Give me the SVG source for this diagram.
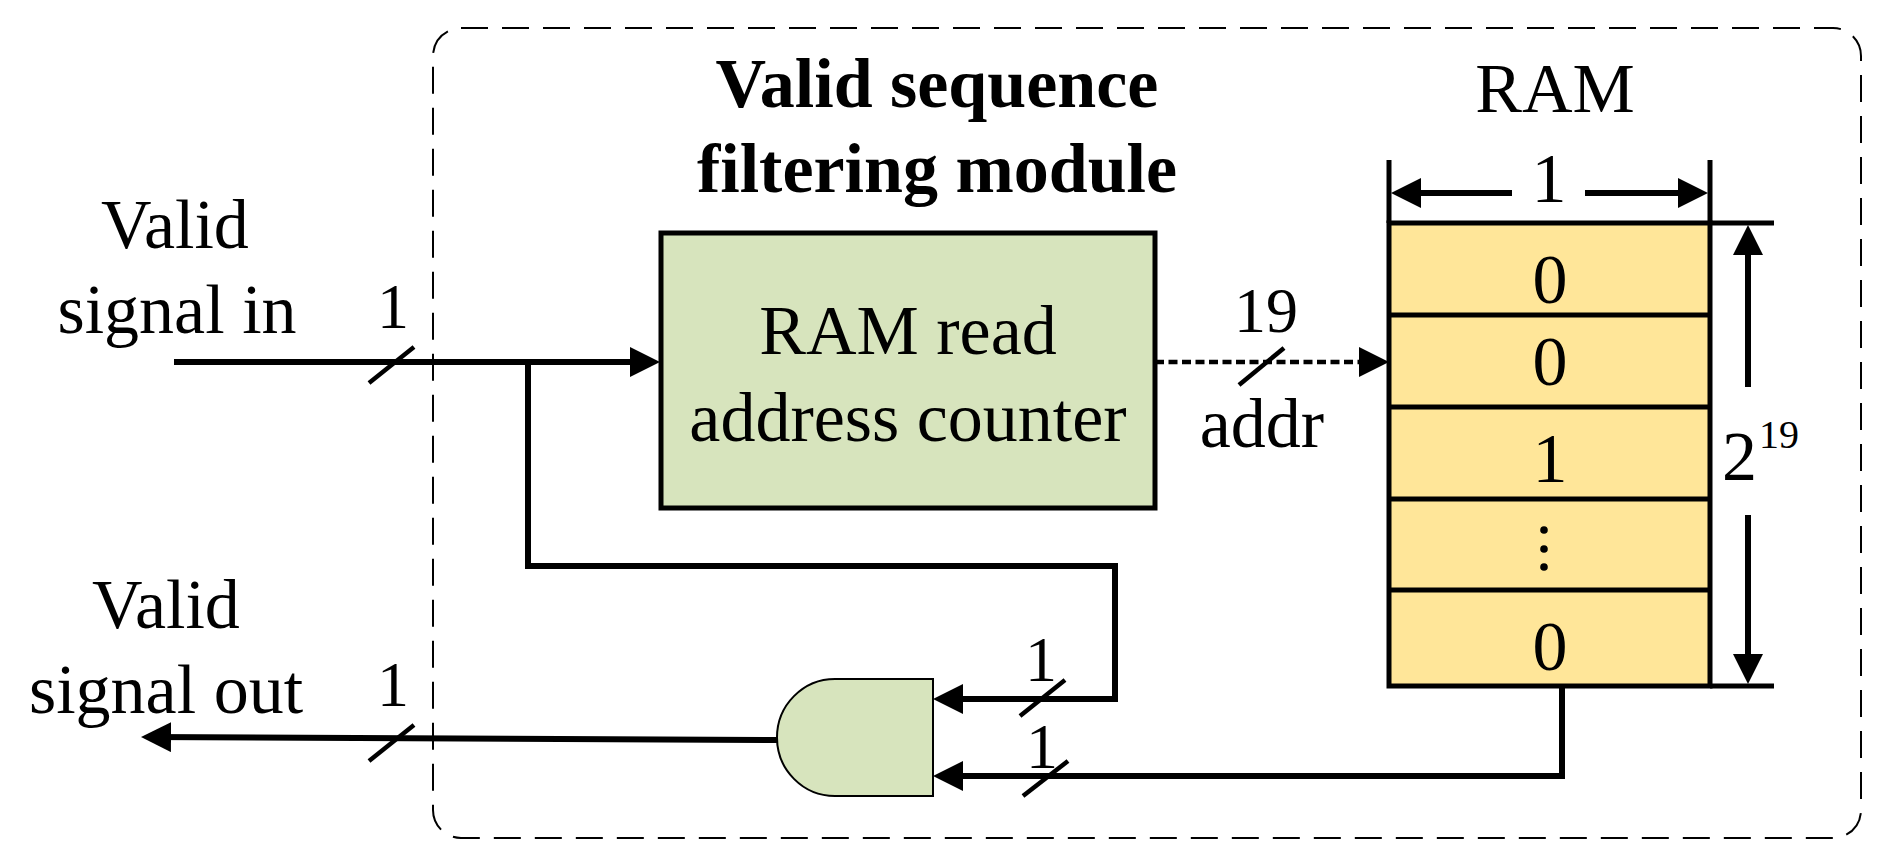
<svg xmlns="http://www.w3.org/2000/svg" width="1884" height="866" viewBox="0 0 1884 866">
<style>
text{font-family:"Liberation Serif","Times New Roman",serif;fill:#000;text-anchor:middle}
.t70{font-size:70px}
.t64{font-size:64px}
.b{font-weight:bold}
.w{fill:none;stroke:#000;stroke-width:6}
.r{fill:none;stroke:#000;stroke-width:5}
.sl{fill:none;stroke:#000;stroke-width:4.5}
.dot{fill:none;stroke:#000;stroke-width:4.5;stroke-dasharray:9 4.5}
.thin{stroke:#000;stroke-width:2}
</style>
<defs>
<marker id="arr" viewBox="0 0 30 30" refX="24" refY="15" markerWidth="30" markerHeight="30" markerUnits="userSpaceOnUse" orient="auto">
<path d="M0,0 L30,15 L0,30 Z" fill="#000"/>
</marker>
</defs>
<rect width="1884" height="866" fill="#fff"/>

<g id="module">
<rect x="433" y="28" width="1428" height="810" rx="28" ry="28" fill="none" stroke="#000" stroke-width="2" stroke-dasharray="27 14"/>
<text class="t70 b" x="937" y="107">Valid sequence</text>
<text class="t70 b" x="937" y="192">filtering module</text>
</g>

<g id="input-label">
<text class="t70" x="175" y="248">Valid</text>
<text class="t70" x="177" y="333">signal in</text>
</g>

<g id="output-label">
<text class="t70" x="166" y="628">Valid</text>
<text class="t70" x="166" y="713">signal out</text>
</g>

<g id="counter">
<rect x="661" y="233" width="494" height="275" fill="#D7E4BD" stroke="#000" stroke-width="5"/>
<text class="t70" x="908" y="354">RAM read</text>
<text class="t70" x="908" y="441">address counter</text>
</g>

<g id="ram">
<text class="t70" x="1555" y="112">RAM</text>
<rect x="1389" y="223" width="321" height="463" fill="#FFE699" stroke="#000" stroke-width="5"/>
<line class="r" x1="1389" y1="315" x2="1710" y2="315"/>
<line class="r" x1="1389" y1="407" x2="1710" y2="407"/>
<line class="r" x1="1389" y1="499" x2="1710" y2="499"/>
<line class="r" x1="1389" y1="590" x2="1710" y2="590"/>
<text class="t70" x="1550" y="303">0</text>
<text class="t70" x="1550" y="385">0</text>
<text class="t70" x="1550" y="482">1</text>
<text class="t70" x="1550" y="670">0</text>
<circle cx="1544" cy="530" r="3.8" fill="#000"/>
<circle cx="1544" cy="549" r="3.8" fill="#000"/>
<circle cx="1544" cy="567" r="3.8" fill="#000"/>
</g>

<g id="ram-width">
<line class="r" x1="1389" y1="160" x2="1389" y2="223"/>
<line class="r" x1="1710" y1="160" x2="1710" y2="223"/>
<path class="w" d="M1512,193 H1397" marker-end="url(#arr)"/>
<path class="w" d="M1585,193 H1702" marker-end="url(#arr)"/>
<text class="t70" x="1549" y="202">1</text>
</g>

<g id="ram-depth">
<line class="r" x1="1710" y1="223" x2="1774" y2="223"/>
<line class="r" x1="1710" y1="686" x2="1774" y2="686"/>
<path class="w" d="M1748,387 V231" marker-end="url(#arr)"/>
<path class="w" d="M1748,515 V678" marker-end="url(#arr)"/>
<text class="t70" x="1722" y="480" style="text-anchor:start">2<tspan font-size="40" dx="2" dy="-32">19</tspan></text>
</g>

<g id="and-gate">
<path d="M933,679 H835 A58,58.5 0 0 0 835,796 H933 Z" fill="#D7E4BD" class="thin"/>
</g>

<g id="connectors">
<path class="w" d="M174,362 H654" marker-end="url(#arr)"/>
<path class="w" d="M528,362 V566 H1115 V699 H939" marker-end="url(#arr)"/>
<path class="w" d="M1562,686 V776 H939" marker-end="url(#arr)"/>
<path class="w" d="M778,740 L147,737" marker-end="url(#arr)"/>
<path class="dot" d="M1155,362 H1383" marker-end="url(#arr)"/>
<line class="sl" x1="369" y1="383" x2="414" y2="347"/>
<line class="sl" x1="369" y1="761" x2="414" y2="725"/>
<line class="sl" x1="1020" y1="716" x2="1065" y2="680"/>
<line class="sl" x1="1023" y1="796" x2="1068" y2="761"/>
<line class="sl" x1="1239" y1="385" x2="1284" y2="348"/>
<text class="t64" x="393" y="328">1</text>
<text class="t64" x="393" y="706">1</text>
<text class="t64" x="1041" y="681">1</text>
<text class="t64" x="1042" y="768">1</text>
<text class="t64" x="1266" y="332">19</text>
<text class="t70" x="1262" y="447">addr</text>
</g>
</svg>
